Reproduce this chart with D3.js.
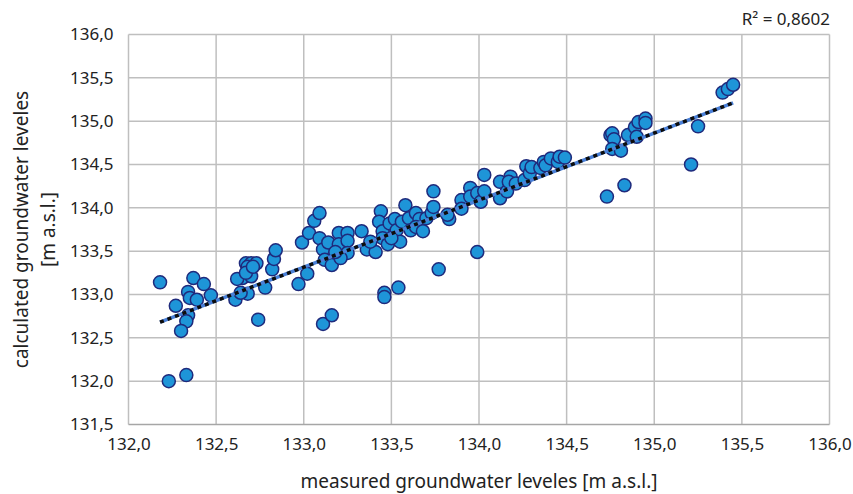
<!DOCTYPE html>
<html>
<head>
<meta charset="utf-8">
<style>
  body { margin: 0; background: #fff; }
  text { font-family: "Noto Sans", "Open Sans", sans-serif; fill: #222; }
  .grid line { stroke: #bfbfbf; stroke-width: 1.5; }
  .dot { fill: #1e95d8; stroke: #1f2a7c; stroke-width: 1.5; }
</style>
</head>
<body>
<script src="https://d3js.org/d3.v7.min.js"></script>
<div id="chart"></div>
<script>
// measured vs calculated groundwater levels [m a.s.l.]
var measured = [
  132.18, 132.37, 132.43, 132.47, 132.34, 132.35, 132.39, 132.27, 132.34, 132.33,
  132.30, 132.23, 132.33, 132.74, 132.61, 132.68, 132.64, 132.67, 132.70, 132.73,
  132.68, 132.65, 132.62, 132.70, 132.67, 132.71, 132.78, 132.82, 132.83, 132.84,
  132.97, 132.99, 133.02, 133.03, 133.06, 133.09, 133.09, 133.11, 133.14, 133.12,
  133.16, 133.20, 133.25, 133.20, 133.25, 133.25, 133.21, 133.18, 133.33, 133.36,
  133.41, 133.38, 133.44, 133.43, 133.45, 133.45, 133.48, 133.49, 133.52, 133.53,
  133.55, 133.50, 133.56, 133.58, 133.60, 133.61, 133.64, 133.66, 133.64, 133.68,
  133.70, 133.73, 133.74, 133.74, 133.83, 133.82, 133.77, 133.46, 133.46, 133.54,
  133.11, 133.16, 134.03, 133.99, 133.90, 133.90, 133.95, 133.95, 133.99, 134.01,
  134.03, 134.12, 134.12, 134.16, 134.18, 134.17, 134.21, 134.26, 134.27, 134.29,
  134.30, 134.35, 134.37, 134.38, 134.41, 134.45, 134.46, 134.49, 134.73, 134.75,
  134.76, 134.77, 134.76, 134.81, 134.85, 134.89, 134.90, 134.91, 134.95, 134.95,
  135.25, 135.21, 134.83, 135.39, 135.42, 135.45
];
var calculated = [
  133.14, 133.19, 133.12, 132.99, 133.03, 132.96, 132.94, 132.87, 132.76, 132.69,
  132.58, 132.00, 132.07, 132.71, 132.94, 133.01, 133.02, 133.36, 133.36, 133.36,
  133.32, 133.19, 133.18, 133.21, 133.25, 133.32, 133.08, 133.29, 133.41, 133.51,
  133.12, 133.60, 133.24, 133.71, 133.85, 133.94, 133.65, 133.52, 133.60, 133.40,
  133.34, 133.71, 133.71, 133.58, 133.62, 133.48, 133.42, 133.49, 133.73, 133.52,
  133.49, 133.61, 133.96, 133.84, 133.73, 133.65, 133.58, 133.82, 133.87, 133.74,
  133.61, 133.65, 133.84, 134.03, 133.88, 133.74, 133.94, 133.87, 133.78, 133.73,
  133.88, 133.94, 134.01, 134.19, 133.87, 133.92, 133.29, 133.02, 132.97, 133.08,
  132.66, 132.76, 134.38, 133.49, 134.09, 133.99, 134.23, 134.13, 134.17, 134.07,
  134.19, 134.30, 134.11, 134.19, 134.36, 134.30, 134.28, 134.32, 134.48, 134.40,
  134.47, 134.46, 134.53, 134.49, 134.57, 134.53, 134.59, 134.58, 134.13, 134.84,
  134.86, 134.79, 134.68, 134.66, 134.84, 134.93, 134.82, 134.99, 135.03, 134.98,
  134.94, 134.50, 134.26, 135.33, 135.37, 135.42
];
// linear trendline
var trendSlope = 0.774;
var trendIntercept = 30.373;
var rSquared = "R\u00B2 = 0,8602";
var xTicks = [132.0, 132.5, 133.0, 133.5, 134.0, 134.5, 135.0, 135.5, 136.0];
var yTicks = [131.5, 132.0, 132.5, 133.0, 133.5, 134.0, 134.5, 135.0, 135.5, 136.0];

var W = 853, H = 494;
var margin = {top: 34.5, right: 23.5, bottom: 69.5, left: 128.5};
var width = W - margin.left - margin.right,
    height = H - margin.top - margin.bottom;

var fmt = function(d) { return d3.format(".1f")(d).replace(".", ","); };

var xScale = d3.scaleLinear().domain([132, 136]).range([0, width]);
var yScale = d3.scaleLinear().domain([131.5, 136]).range([height, 0]);

var svg = d3.select("#chart").append("svg")
    .attr("width", W)
    .attr("height", H);

var g = svg.append("g")
    .attr("transform", "translate(" + margin.left + "," + margin.top + ")");

// gridlines
g.append("g").attr("class", "grid")
    .selectAll("line").data(xTicks).enter().append("line")
    .attr("x1", function(d) { return xScale(d); })
    .attr("x2", function(d) { return xScale(d); })
    .attr("y1", 0).attr("y2", height);
g.append("g").attr("class", "grid")
    .selectAll("line").data(yTicks).enter().append("line")
    .attr("x1", 0).attr("x2", width)
    .attr("y1", function(d) { return yScale(d); })
    .attr("y2", function(d) { return yScale(d); })
    .attr("stroke", function(d) { return d === 131.5 ? "#a6a6a6" : null; })
    .style("stroke", function(d) { return d === 131.5 ? "#a6a6a6" : null; });

// axes (labels only)
var xAxis = g.append("g")
    .attr("transform", "translate(0," + height + ")")
    .call(d3.axisBottom(xScale).tickValues(xTicks).tickFormat(fmt).tickSize(0).tickPadding(13));
var yAxis = g.append("g")
    .call(d3.axisLeft(yScale).tickValues(yTicks).tickFormat(fmt).tickSize(0).tickPadding(15));
[xAxis, yAxis].forEach(function(a) {
  a.select(".domain").remove();
  a.selectAll("text").attr("font-size", 17).attr("font-family", "Noto Sans").attr("fill", "#222");
});

// trendline
var x0 = d3.min(measured), x1 = d3.max(measured);
var trend = [[x0, trendSlope * x0 + trendIntercept], [x1, trendSlope * x1 + trendIntercept]];
var line = d3.line()
    .x(function(d) { return xScale(d[0]); })
    .y(function(d) { return yScale(d[1]); });

// points
var pts = measured.map(function(m, i) { return {x: m, y: calculated[i]}; });
g.selectAll(".dot")
    .data(pts)
    .enter().append("circle")
    .attr("class", "dot")
    .attr("cx", function(d) { return xScale(d.x); })
    .attr("cy", function(d) { return yScale(d.y); })
    .attr("r", 6.5);

g.append("path").datum(trend)
    .attr("d", line)
    .attr("fill", "none")
    .attr("stroke", "#4a80d8")
    .attr("stroke-width", 3.5);
g.append("path").datum(trend)
    .attr("d", line)
    .attr("fill", "none")
    .attr("stroke", "#0d0d0d")
    .attr("stroke-width", 3.5)
    .attr("stroke-dasharray", "4,4");

// titles
svg.append("text")
    .attr("x", margin.left + width / 2 + 0)
    .attr("y", 488)
    .attr("text-anchor", "middle")
    .attr("font-size", 19)
    .text("measured groundwater leveles [m a.s.l.]");

var yt = svg.append("text")
    .attr("transform", "translate(28," + (margin.top + height / 2) + ") rotate(-90)")
    .attr("text-anchor", "middle")
    .attr("font-size", 19);
yt.append("tspan").attr("x", 0).attr("dy", 0).text("calculated groundwater leveles");
yt.append("tspan").attr("x", 0).attr("dy", 27).text("[m a.s.l.]");

svg.append("text")
    .attr("x", 830)
    .attr("y", 25)
    .attr("text-anchor", "end")
    .attr("font-size", 17)
    .text(rSquared);
</script>
</body>
</html>
